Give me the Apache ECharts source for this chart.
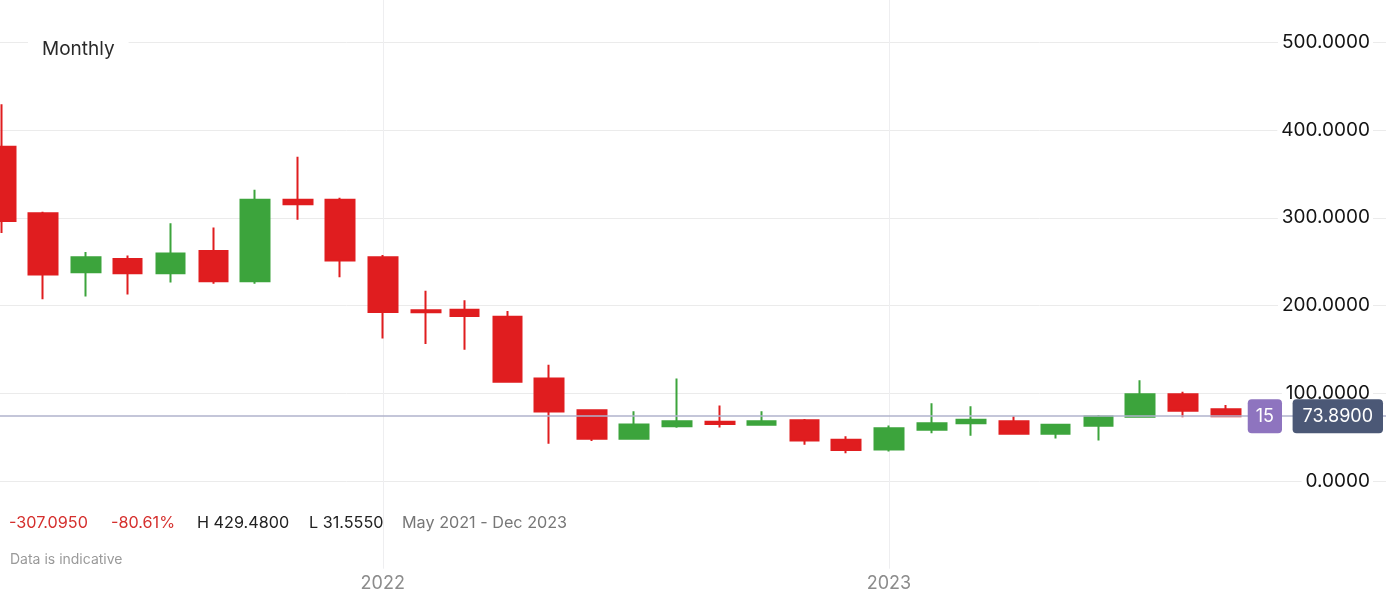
<!DOCTYPE html>
<html><head><meta charset="utf-8">
<script src="https://cdn.jsdelivr.net/npm/echarts@6/dist/echarts.min.js"></script>
<style>html,body{margin:0;padding:0;background:#fff;}#chart{width:1386px;height:598px;}</style>
</head><body><div id="chart"></div>
<script>
// ---- data (monthly candles) ----
const months = ['2021-04','2021-05','2021-06','2021-07','2021-08','2021-09','2021-10','2021-11','2021-12',
  '2022-01','2022-02','2022-03','2022-04','2022-05','2022-06','2022-07','2022-08','2022-09','2022-10','2022-11','2022-12',
  '2023-01','2023-02','2023-03','2023-04','2023-05','2023-06','2023-07','2023-08','2023-09'];
const opens  = [380.96,305.0,237.8,253.0,236.7,262.2,227.5,320.5,320.5, 255.0,194.7,195.2,187.3,116.8,80.7,48.1,62.5,67.4,64.0,69.3,46.9, 35.9,58.3,65.9,68.2,53.8,62.8,73.1,98.9,81.8];
const closes = [296.2,235.2,255.0,236.7,259.2,227.5,320.5,315.3,251.2, 192.5,192.2,188.0,113.0,79.2,48.1,64.3,68.2,64.8,68.2,46.1,35.2, 60.2,65.9,69.7,53.8,64.0,73.4,98.9,79.9,73.89];
const lows   = [282.5,207.2,210.3,212.6,226.3,224.9,224.9,297.7,232.1, 162.3,156.0,149.6,112.0,42.4,45.5,47.3,60.6,60.9,62.8,41.3,31.555, 33.6,54.5,51.5,53.5,48.4,46.1,72.5,72.7,73.0];
const highs  = [429.48,306.8,261.1,256.9,293.6,289.0,331.9,369.6,322.8, 257.6,216.8,206.1,193.6,132.5,81.0,79.5,116.8,85.9,79.5,70.5,51.1, 63.2,88.6,85.2,73.9,64.5,75.3,114.8,101.8,86.7];
const yTickValues = [0,100,200,300,400,500];
const statTexts = ['-307.0950','-80.61%','H 429.4800','L 31.5550','May 2021 - Dec 2023'];
const lastPrice = 73.89;
const badgeText = '15';

// ---- build ----
const DAY = 86400000;
const ts = m => { const [y, mo] = m.split('-').map(Number); return Date.UTC(y, mo - 1, 1); };
const candles = months.map((m, i) => [ts(m), opens[i], closes[i], lows[i], highs[i]]);
const xMin = Date.UTC(2021, 2, 31);
const xMax = xMin + 999.4 * DAY;

const RED = '#e01d1f', GREEN = '#3ca43c';
const FONT = 'Inter';

const chart = echarts.init(document.getElementById('chart'));
chart.setOption({
  useUTC: true,
  animation: false,
  backgroundColor: '#fff',
  textStyle: { fontFamily: FONT },
  title: {
    text: 'Monthly', left: 28, top: 34, padding: [6, 14], backgroundColor: '#fff',
    textStyle: { fontSize: 19, fontWeight: 'normal', color: '#2a2a2a', fontFamily: FONT }
  },
  grid: { left: 0, right: 0, top: 0, height: 568.7, containLabel: false, outerBoundsMode: 'none' },
  xAxis: {
    type: 'time', min: xMin, max: xMax, minInterval: 365 * DAY,
    axisLine: { show: false }, axisTick: { show: false },
    splitLine: { show: true, showMinLine: false, showMaxLine: false, lineStyle: { color: '#eeeef0', width: 1 } },
    axisLabel: {
      margin: 6, fontSize: 18, color: '#8c8c8c', fontFamily: FONT,
      showMinLabel: false, showMaxLabel: false,
      formatter: function (v) {
        const d = new Date(v);
        return (d.getUTCMonth() === 0 && d.getUTCDate() === 1) ? String(d.getUTCFullYear()) : '';
      }
    }
  },
  yAxis: {
    type: 'value', position: 'right', min: -100, max: 548.2, interval: 100, scale: false,
    axisLine: { show: false }, axisTick: { show: false },
    splitLine: { show: true, showMinLine: false, showMaxLine: false, lineStyle: { color: '#ebebeb', width: 1 } },
    axisLabel: {
      inside: true, margin: 13, align: 'right', fontSize: 19, color: '#141414', fontFamily: FONT,
      backgroundColor: '#fff', padding: [3, 3, 3, 4],
      formatter: v => yTickValues.indexOf(Math.round(v)) >= 0 && Math.abs(v - Math.round(v)) < 1e-6 ? v.toFixed(4) : ''
    }
  },
  series: [{
    type: 'candlestick',
    data: candles,
    barWidth: 29,
    clip: true,
    itemStyle: { color: GREEN, color0: RED, borderColor: GREEN, borderColor0: RED, borderWidth: 2 },
    markLine: {
      silent: true, symbol: 'none', animation: false,
      label: { show: false },
      lineStyle: { color: '#b1b3cc', width: 1.5, type: 'solid' },
      data: [{ yAxis: lastPrice }]
    }
  }]
});

const py = chart.convertToPixel({ yAxisIndex: 0 }, lastPrice);
const statColors = ['#d5302e', '#d5302e', '#222', '#222', '#777'];
const statX = [9, 111, 197, 309, 402];
const graphics = statTexts.map((t, i) => ({
  type: 'text', x: statX[i], y: 523, z: 10,
  style: { text: t, fill: statColors[i], font: '16.2px ' + FONT, verticalAlign: 'middle', align: 'left' }
}));
graphics.push({ type: 'text', x: 10, y: 560, z: 10,
  style: { text: 'Data is indicative', fill: '#9a9a9a', font: '14px ' + FONT, verticalAlign: 'middle' } });
graphics.push({ type: 'text', x: 1282, y: py, z: 20,
  style: { text: badgeText, fill: '#fff', font: '18px ' + FONT, align: 'right', verticalAlign: 'middle',
    backgroundColor: '#8e74bf', padding: [8, 8], borderRadius: 4, lineHeight: 18 } });
graphics.push({ type: 'text', x: 1383, y: py, z: 20,
  style: { text: lastPrice.toFixed(4), fill: '#fff', font: '18px ' + FONT, align: 'right', verticalAlign: 'middle',
    backgroundColor: '#4b5876', padding: [8, 10], borderRadius: 4, lineHeight: 18 } });
chart.setOption({ graphic: graphics });
</script>
</body></html>
